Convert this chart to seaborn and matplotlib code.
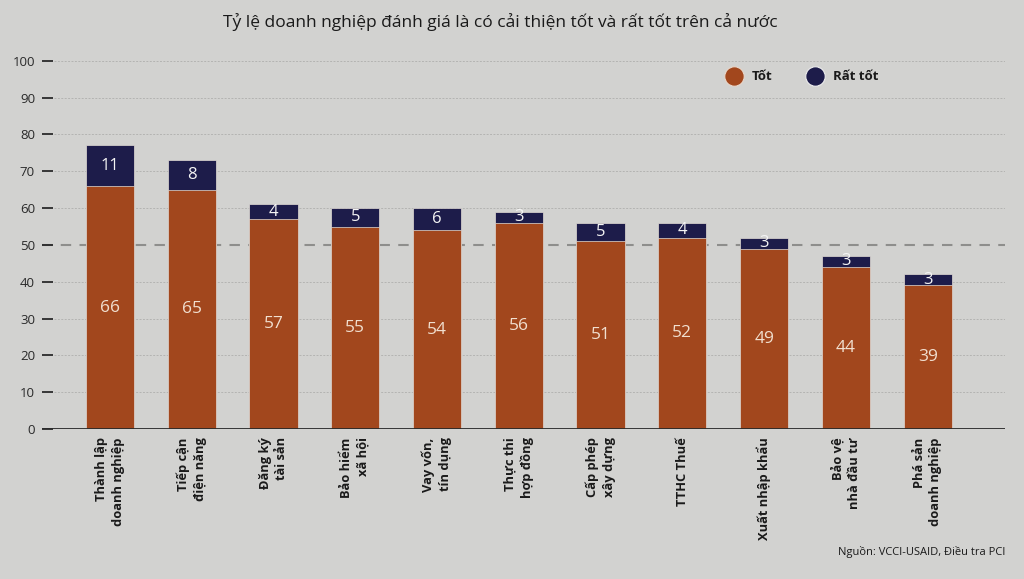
import matplotlib
matplotlib.use("Agg")
import matplotlib.pyplot as plt
from matplotlib.lines import Line2D
import seaborn as sns
import pandas as pd

categories = ["Thành lập\ndoanh nghiệp", "Tiếp cận\nđiện năng", "Đăng ký\ntài sản",
              "Bảo hiểm\nxã hội", "Vay vốn,\ntín dụng", "Thực thi\nhợp đồng",
              "Cấp phép\nxây dựng", "TTHC Thuế", "Xuất nhập khẩu",
              "Bảo vệ\nnhà đầu tư", "Phá sản\ndoanh nghiệp"]
tot = [66, 65, 57, 55, 54, 56, 51, 52, 49, 44, 39]
rat_tot = [11, 8, 4, 5, 6, 3, 5, 4, 3, 3, 3]
yticks = [0, 10, 20, 30, 40, 50, 60, 70, 80, 90, 100]

BG = "#d2d2d0"
ORANGE = "#a2471d"
NAVY = "#1d1c4a"

sns.set_theme(style="white")
plt.rcParams["font.family"] = ["Open Sans", "DejaVu Sans"]

df = pd.DataFrame({"cat": categories, "tot": tot, "rat": rat_tot})
df["total"] = df["tot"] + df["rat"]

fig = plt.figure(figsize=(10.24, 5.79), dpi=100, facecolor=BG)
ax = fig.add_axes([0.041, 0.259, 0.940, 0.636], facecolor=BG)

sns.barplot(data=df, x="cat", y="total", color=NAVY, saturation=1, width=0.59, ax=ax)
sns.barplot(data=df, x="cat", y="tot", color=ORANGE, saturation=1, width=0.59, ax=ax)
for p in ax.patches:
    p.set_edgecolor("#e2dcd6")
    p.set_linewidth(0.5)
    p.set_zorder(2)

ax.set_xlim(-0.83, 10.94)
ax.set_ylim(0, 100)
ax.set_xlabel("")
ax.set_ylabel("")

# gridlines
for v in yticks[1:]:
    if v == 50:
        ax.axhline(v, color="#8e8e8c", lw=1.5, ls=(0, (5, 4)), zorder=0.5)
    else:
        ax.axhline(v, xmin=0.012, color="#b4b4b2", lw=0.7, ls=(0, (2, 1.5)), zorder=0.5)
ax.axhline(0, color="#2a2a2a", lw=1.3, zorder=3)

for s in ax.spines.values():
    s.set_visible(False)

ax.set_yticks(yticks)
ax.set_yticklabels([str(v) for v in yticks], fontsize=9.5, color="#2a2a2a")
ax.tick_params(axis="y", direction="in", length=8, width=1.3, color="#2a2a2a", pad=5, left=True)
ax.tick_params(axis="x", length=0, pad=6)
ax.set_xticks(range(len(categories)))
ax.set_xticklabels(categories, rotation=90, fontsize=9.3, fontweight="bold",
                   color="#1a1a1a", va="top", ha="center", ma="right",
                   linespacing=1.35)

# value labels
for i, (a, b) in enumerate(zip(tot, rat_tot)):
    ax.text(i, a / 2, str(a), ha="center", va="center", fontsize=12.5,
            color="#f1dfcf", zorder=5)
    ax.text(i, a + b / 2, str(b), ha="center", va="center", fontsize=12,
            color="#f4f4f4", zorder=5)

# legend
handles = [Line2D([], [], marker="o", ls="", markersize=14, markerfacecolor=ORANGE,
                  markeredgecolor="#e8d8cc", markeredgewidth=0.8, label="Tốt"),
           Line2D([], [], marker="o", ls="", markersize=14, markerfacecolor=NAVY,
                  markeredgecolor="#eeeeee", markeredgewidth=0.8, label="Rất tốt")]
leg = ax.legend(handles=handles, ncol=2, frameon=True, loc="center",
                bbox_to_anchor=(0.787, 0.957), fontsize=9.5, handletextpad=0.4,
                columnspacing=2.2, borderpad=0.3)
leg.get_frame().set_facecolor(BG)
leg.get_frame().set_edgecolor("none")
leg.get_frame().set_alpha(1)
for t in leg.get_texts():
    t.set_fontweight("bold")
    t.set_color("#1a1a1a")

fig.text(0.489, 0.962, "Tỷ lệ doanh nghiệp đánh giá là có cải thiện tốt và rất tốt trên cả nước",
         ha="center", va="center", fontsize=12.5, fontweight="normal", color="#1a1a1a")
fig.text(0.982, 0.046, "Nguồn: VCCI-USAID, Điều tra PCI", ha="right", va="center",
         fontsize=8, color="#1a1a1a")

fig.savefig("out.png", dpi=100, facecolor=BG)
